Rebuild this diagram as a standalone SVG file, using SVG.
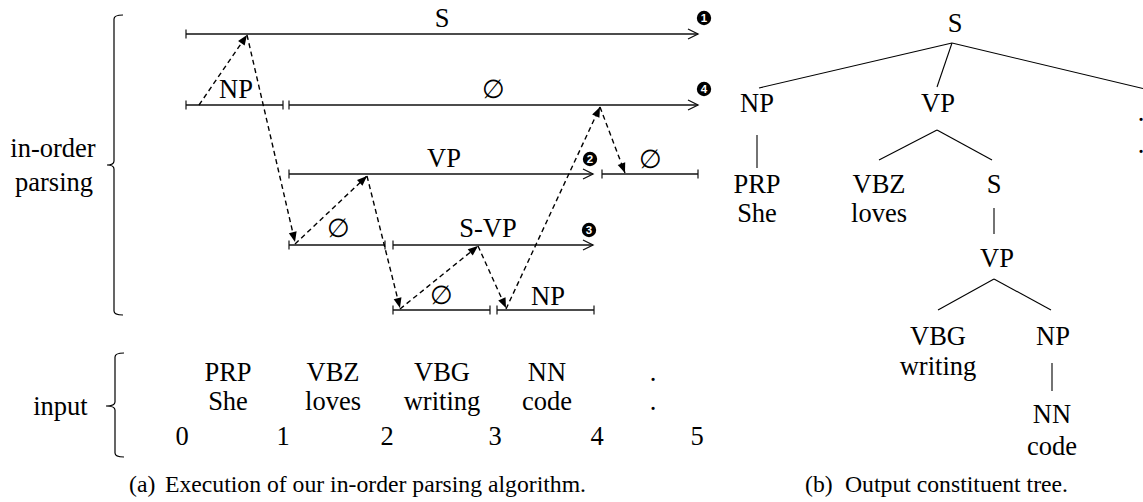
<svg xmlns="http://www.w3.org/2000/svg" width="1143" height="502" viewBox="0 0 1143 502">
<style>
text{font-family:"Liberation Serif","DejaVu Serif",serif;fill:#000}
.t{font-size:26.5px;text-anchor:middle}
.cap{font-size:23.7px}
.e{font-size:26px;text-anchor:middle;font-family:"DejaVu Serif","Liberation Serif",serif}
.seg{stroke:#111;stroke-width:1.3;fill:none}
.dash{stroke:#000;stroke-width:1.4;fill:none;stroke-dasharray:5,3.5}
.br{stroke:#000;stroke-width:1.2;fill:none}
.edge{stroke:#000;stroke-width:1.1}
.num{font-family:"Liberation Sans","DejaVu Sans",sans-serif;font-weight:bold;font-size:11.5px;fill:#fff;text-anchor:middle}
</style>
<defs>
<marker id="open" markerUnits="userSpaceOnUse" markerWidth="12" markerHeight="12" refX="10" refY="5" orient="auto" overflow="visible"><path d="M0,0 L10,5 L0,10" fill="none" stroke="#111" stroke-width="1.3"/></marker>
<marker id="fill" markerUnits="userSpaceOnUse" markerWidth="12" markerHeight="12" refX="10" refY="4" orient="auto" overflow="visible"><path d="M0,0 L10,4 L0,8 z" fill="#000"/></marker>
<marker id="tick" markerUnits="userSpaceOnUse" markerWidth="4" markerHeight="12" refX="0" refY="4.5" orient="auto" overflow="visible"><path d="M0,0 L0,9" stroke="#111" stroke-width="1.2"/></marker>
</defs>

<g id="left-labels">
<path class="br" d="M123,15 Q114,15 114,19 L114,161 Q114,165 107,165 Q114,165 114,169 L114,311 Q114,315 123,315"/>
<text class="t" x="53" y="157">in-order</text>
<text class="t" x="54" y="191">parsing</text>
<path class="br" d="M124,353 Q115,353 115,357 L115,402 Q115,406 106,406 Q115,406 115,410 L115,453 Q115,457 124,457"/>
<text class="t" x="60.5" y="415">input</text>
</g>

<g id="connectors">
<path class="seg" d="M186,34 H698" marker-start="url(#tick)" marker-end="url(#open)"/>
<path class="seg" d="M186,105 H283" marker-start="url(#tick)" marker-end="url(#tick)"/>
<path class="seg" d="M289,105 H698" marker-start="url(#tick)" marker-end="url(#open)"/>
<path class="seg" d="M289,174 H593" marker-start="url(#tick)" marker-end="url(#open)"/>
<path class="seg" d="M602,174 H698" marker-start="url(#tick)" marker-end="url(#tick)"/>
<path class="seg" d="M289,245 H385" marker-start="url(#tick)" marker-end="url(#tick)"/>
<path class="seg" d="M393,245 H593" marker-start="url(#tick)" marker-end="url(#open)"/>
<path class="seg" d="M393,310 H490" marker-start="url(#tick)" marker-end="url(#tick)"/>
<path class="seg" d="M497,310 H594" marker-start="url(#tick)" marker-end="url(#tick)"/>

<path class="dash" d="M199,105 L247,35" marker-end="url(#fill)"/>
<path class="dash" d="M247,35 L295,242" marker-end="url(#fill)"/>
<path class="dash" d="M295,244 L367,176" marker-end="url(#fill)"/>
<path class="dash" d="M367,176 L400,308" marker-end="url(#fill)"/>
<path class="dash" d="M400,309 L478,246" marker-end="url(#fill)"/>
<path class="dash" d="M478,246 L506,308" marker-end="url(#fill)"/>
<path class="dash" d="M506,309 L600,107" marker-end="url(#fill)"/>
<path class="dash" d="M600,107 L625,173" marker-end="url(#fill)"/>

<line class="edge" x1="952" y1="43" x2="759" y2="88"/>
<line class="edge" x1="952" y1="43" x2="937" y2="87"/>
<line class="edge" x1="952" y1="43" x2="1143" y2="88.5"/>
<line class="edge" x1="757" y1="135" x2="757" y2="168"/>
<line class="edge" x1="937" y1="130" x2="879" y2="160"/>
<line class="edge" x1="937" y1="130" x2="992" y2="160"/>
<line class="edge" x1="994" y1="208" x2="994" y2="234"/>
<line class="edge" x1="994" y1="279" x2="938" y2="310"/>
<line class="edge" x1="994" y1="279" x2="1051" y2="310"/>
<line class="edge" x1="1052" y1="363" x2="1052" y2="391"/>
</g>

<g id="row-labels">
<text class="t" x="442" y="27">S</text>
<text class="t" x="236" y="98">NP</text>
<text class="e" x="493" y="98">∅</text>
<text class="t" x="444" y="167">VP</text>
<text class="e" x="650" y="168">∅</text>
<text class="e" x="338" y="237">∅</text>
<text class="t" x="488" y="237">S-VP</text>
<text class="e" x="441" y="304">∅</text>
<text class="t" x="548" y="305">NP</text>
</g>

<g id="steps">
<g id="step1"><circle cx="704" cy="18" r="7.2"/><text class="num" x="704" y="22">1</text></g>
<g id="step4"><circle cx="704" cy="89" r="7.2"/><text class="num" x="704" y="93">4</text></g>
<g id="step2"><circle cx="590" cy="159" r="7.2"/><text class="num" x="590" y="163">2</text></g>
<g id="step3"><circle cx="589" cy="230" r="7.2"/><text class="num" x="589" y="234">3</text></g>
</g>

<g id="input-tokens">
<g id="tok1"><text class="t" x="228" y="380.5">PRP</text><text class="t" x="228" y="409.5">She</text></g>
<g id="tok2"><text class="t" x="333" y="380.5">VBZ</text><text class="t" x="333" y="409.5">loves</text></g>
<g id="tok3"><text class="t" x="442" y="380.5">VBG</text><text class="t" x="442" y="409.5">writing</text></g>
<g id="tok4"><text class="t" x="547" y="380.5">NN</text><text class="t" x="547" y="409.5">code</text></g>
<g id="tok5"><text class="t" x="653" y="380.5">.</text><text class="t" x="653" y="409.5">.</text></g>
<g id="positions">
<text class="t" x="182" y="445">0</text>
<text class="t" x="283" y="445">1</text>
<text class="t" x="387" y="445">2</text>
<text class="t" x="495" y="445">3</text>
<text class="t" x="597" y="445">4</text>
<text class="t" x="697" y="445">5</text>
</g>
</g>

<g id="tree">
<g id="t-S"><text class="t" x="955" y="32">S</text></g>
<g id="t-NP"><text class="t" x="757" y="112">NP</text></g>
<g id="t-VP"><text class="t" x="938" y="112">VP</text></g>
<g id="t-dot"><text class="t" x="1141" y="121">.</text><text class="t" x="1141" y="153">.</text></g>
<g id="t-PRP"><text class="t" x="757" y="193">PRP</text><text class="t" x="757" y="222">She</text></g>
<g id="t-VBZ"><text class="t" x="879" y="193">VBZ</text><text class="t" x="879" y="222">loves</text></g>
<g id="t-S2"><text class="t" x="994" y="193">S</text></g>
<g id="t-VP2"><text class="t" x="997" y="267">VP</text></g>
<g id="t-VBG"><text class="t" x="938" y="345">VBG</text><text class="t" x="938" y="375">writing</text></g>
<g id="t-NP2"><text class="t" x="1053" y="345">NP</text></g>
<g id="t-NN"><text class="t" x="1052" y="423">NN</text><text class="t" x="1052" y="455">code</text></g>
</g>

<g id="captions">
<text class="cap" x="129" y="492">(a)</text>
<text class="cap" x="165" y="492">Execution of our in-order parsing algorithm.</text>
<text class="cap" x="805" y="492">(b)</text>
<text class="cap" x="845" y="492">Output constituent tree.</text>
</g>
</svg>
